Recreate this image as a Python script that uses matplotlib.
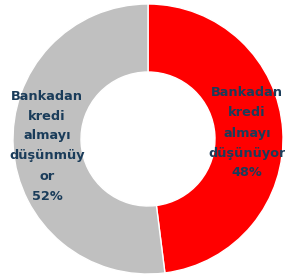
import matplotlib.pyplot as plt

labels = ["Bankadan\nkredi\nalmayı\ndüşünüyor\n48%", "Bankadan\nkredi\nalmayı\ndüşünmüy\nor\n52%"]
values = [48, 52]
colors = ["#FF0000", "#C0C0C0"]

fig = plt.figure(figsize=(2.85, 2.77), dpi=100)
ax = fig.add_axes([0, 0, 1, 1])

wedges, _ = ax.pie(values, colors=colors, startangle=90, counterclock=False,
                   center=(148, 138), radius=135, frame=True,
                   wedgeprops=dict(width=68, edgecolor="white", linewidth=1))
ax.set_xlim(0, 285)
ax.set_ylim(0, 277)
ax.axis("off")

text_pos = [(247, 144), (47, 131)]
for lab, (x, y) in zip(labels, text_pos):
    ax.text(x, y, lab, ha="center", va="center", fontsize=9.3, fontweight="bold",
            color="#1A3C5A", linespacing=1.7, family="DejaVu Sans")

plt.savefig("out.png", dpi=100)
